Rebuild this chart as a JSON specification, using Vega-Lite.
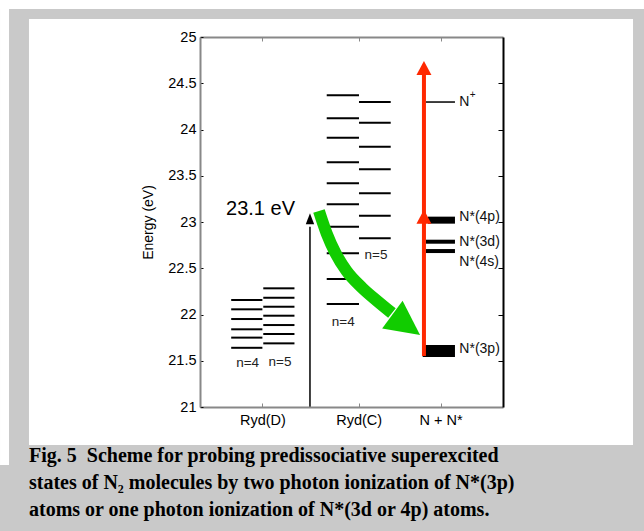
{
  "$schema": "https://vega.github.io/schema/vega-lite/v6.json",
  "autosize": {"type": "none"},
  "width": 303,
  "height": 370,
  "padding": {"left": 200, "top": 37, "right": 141, "bottom": 124},
  "background": "#c9c9c9",
  "config": {"view": {"stroke": null}},
  "title": {
    "text": ["Fig. 5\u00a0 Scheme for probing predissociative superexcited", "states of N₂ molecules by two photon ionization of N*(3p)", "atoms or one photon ionization of N*(3d or 4p) atoms."],
    "orient": "bottom", "anchor": "start", "frame": "group", "dx": -171, "offset": -19,
    "font": "Liberation Serif", "fontSize": 20, "fontWeight": "bold", "color": "#000", "lineHeight": 27, "baseline": "top"
  },
  "datasets": {
    "levels": [
      {"series": "Ryd(D) n=4", "xStart": 0.65, "xEnd": 1.0, "E": 22.157, "kind": "Rydberg"},
      {"series": "Ryd(D) n=4", "xStart": 0.65, "xEnd": 1.0, "E": 22.056, "kind": "Rydberg"},
      {"series": "Ryd(D) n=4", "xStart": 0.65, "xEnd": 1.0, "E": 21.951, "kind": "Rydberg"},
      {"series": "Ryd(D) n=4", "xStart": 0.65, "xEnd": 1.0, "E": 21.84, "kind": "Rydberg"},
      {"series": "Ryd(D) n=4", "xStart": 0.65, "xEnd": 1.0, "E": 21.75, "kind": "Rydberg"},
      {"series": "Ryd(D) n=4", "xStart": 0.65, "xEnd": 1.0, "E": 21.64, "kind": "Rydberg"},
      {"series": "Ryd(D) n=5", "xStart": 1.01, "xEnd": 1.36, "E": 22.283, "kind": "Rydberg"},
      {"series": "Ryd(D) n=5", "xStart": 1.01, "xEnd": 1.36, "E": 22.181, "kind": "Rydberg"},
      {"series": "Ryd(D) n=5", "xStart": 1.01, "xEnd": 1.36, "E": 22.084, "kind": "Rydberg"},
      {"series": "Ryd(D) n=5", "xStart": 1.01, "xEnd": 1.36, "E": 21.987, "kind": "Rydberg"},
      {"series": "Ryd(D) n=5", "xStart": 1.01, "xEnd": 1.36, "E": 21.886, "kind": "Rydberg"},
      {"series": "Ryd(D) n=5", "xStart": 1.01, "xEnd": 1.36, "E": 21.789, "kind": "Rydberg"},
      {"series": "Ryd(D) n=5", "xStart": 1.01, "xEnd": 1.36, "E": 21.688, "kind": "Rydberg"},
      {"series": "Ryd(C) n=4", "xStart": 1.722, "xEnd": 2.084, "E": 24.37, "kind": "Rydberg"},
      {"series": "Ryd(C) n=4", "xStart": 1.722, "xEnd": 2.084, "E": 24.121, "kind": "Rydberg"},
      {"series": "Ryd(C) n=4", "xStart": 1.722, "xEnd": 2.084, "E": 23.911, "kind": "Rydberg"},
      {"series": "Ryd(C) n=4", "xStart": 1.722, "xEnd": 2.084, "E": 23.645, "kind": "Rydberg"},
      {"series": "Ryd(C) n=4", "xStart": 1.722, "xEnd": 2.084, "E": 23.418, "kind": "Rydberg"},
      {"series": "Ryd(C) n=4", "xStart": 1.722, "xEnd": 2.084, "E": 23.191, "kind": "Rydberg"},
      {"series": "Ryd(C) n=4", "xStart": 1.722, "xEnd": 2.084, "E": 22.949, "kind": "Rydberg"},
      {"series": "Ryd(C) n=4", "xStart": 1.722, "xEnd": 2.084, "E": 22.661, "kind": "Rydberg"},
      {"series": "Ryd(C) n=4", "xStart": 1.722, "xEnd": 2.084, "E": 22.384, "kind": "Rydberg"},
      {"series": "Ryd(C) n=4", "xStart": 1.722, "xEnd": 2.084, "E": 22.114, "kind": "Rydberg"},
      {"series": "Ryd(C) n=5", "xStart": 2.084, "xEnd": 2.44, "E": 24.297, "kind": "Rydberg"},
      {"series": "Ryd(C) n=5", "xStart": 2.084, "xEnd": 2.44, "E": 24.073, "kind": "Rydberg"},
      {"series": "Ryd(C) n=5", "xStart": 2.084, "xEnd": 2.44, "E": 23.813, "kind": "Rydberg"},
      {"series": "Ryd(C) n=5", "xStart": 2.084, "xEnd": 2.44, "E": 23.57, "kind": "Rydberg"},
      {"series": "Ryd(C) n=5", "xStart": 2.084, "xEnd": 2.44, "E": 23.31, "kind": "Rydberg"},
      {"series": "Ryd(C) n=5", "xStart": 2.084, "xEnd": 2.44, "E": 23.068, "kind": "Rydberg"},
      {"series": "Ryd(C) n=5", "xStart": 2.084, "xEnd": 2.44, "E": 22.824, "kind": "Rydberg"},
      {"series": "N+", "xStart": 2.836, "xEnd": 3.161, "E": 24.297, "kind": "ion"},
      {"series": "N*(4p)", "xStart": 2.858, "xEnd": 3.161, "E": 23.02, "kind": "4p"},
      {"series": "N*(3d)", "xStart": 2.836, "xEnd": 3.161, "E": 22.787, "kind": "3d/4s"},
      {"series": "N*(4s)", "xStart": 2.836, "xEnd": 3.161, "E": 22.686, "kind": "3d/4s"},
      {"series": "N*(3p)", "xStart": 2.799, "xEnd": 3.161, "E": 21.605, "kind": "3p"}
    ]
  },
  "resolve": {"axis": {"x": "independent", "y": "independent"}},
  "layer": [
    {
      "data": {"values": [{}]},
      "mark": {"type": "rect", "color": "#ffffff", "clip": false},
      "encoding": {
        "x": {"datum": -1.944, "type": "quantitative", "scale": {"domain": [0.3, 3.7], "nice": false, "zero": false}, "axis": null},
        "x2": {"datum": 5.282},
        "y": {"datum": 25.4, "type": "quantitative", "scale": {"domain": [21, 25], "nice": false, "zero": false}, "axis": null},
        "y2": {"datum": 25.303}
      }
    },
    {
      "data": {"values": [{}]},
      "mark": {"type": "rect", "color": "#ffffff", "clip": false},
      "encoding": {
        "x": {"datum": -1.944, "type": "quantitative", "axis": null},
        "x2": {"datum": -1.843},
        "y": {"datum": 25.4, "type": "quantitative", "axis": null},
        "y2": {"datum": 20.373}
      }
    },
    {
      "data": {"values": [{}]},
      "mark": {"type": "rect", "color": "#ffffff", "clip": false},
      "encoding": {
        "x": {"datum": -1.619, "type": "quantitative", "axis": null},
        "x2": {"datum": 5.159},
        "y": {"datum": 25.195, "type": "quantitative", "axis": null},
        "y2": {"datum": 20.589}
      }
    },
    {
      "data": {"name": "levels"},
      "transform": [{"filter": "datum.kind == 'Rydberg'"}],
      "mark": {"type": "rule", "color": "#000000", "strokeWidth": 2},
      "encoding": {
        "x": {"field": "xStart", "type": "quantitative", "scale": {"domain": [0.3, 3.7], "nice": false, "zero": false},
          "axis": {"orient": "bottom", "values": [1, 2.08, 3], "labelExpr": "datum.value < 1.5 ? 'Ryd(D)' : datum.value < 2.5 ? 'Ryd(C)' : 'N + N*'",
            "title": null, "grid": false, "tickSize": -4, "tickColor": "#888888", "domainColor": "#888888", "domainWidth": 2,
            "labelFont": "Liberation Sans", "labelFontSize": 14.5, "labelColor": "#000000", "labelPadding": 10, "zindex": 1}},
        "x2": {"field": "xEnd"},
        "y": {"field": "E", "type": "quantitative", "scale": {"domain": [21, 25], "nice": false, "zero": false},
          "axis": {"orient": "left", "values": [21, 21.5, 22, 22.5, 23, 23.5, 24, 24.5, 25], "format": "~g",
            "title": "Energy (eV)", "titleFont": "Liberation Sans", "titleFontSize": 14, "titleFontWeight": "normal", "titleColor": "#000000", "titlePadding": 12,
            "grid": false, "tickSize": -3, "tickColor": "#000000", "domainColor": "#888888", "domainWidth": 2,
            "labelFont": "Liberation Sans", "labelFontSize": 14.5, "labelColor": "#000000", "labelPadding": 7, "zindex": 1}}
      }
    },
    {
      "data": {"name": "levels"},
      "transform": [{"filter": "datum.kind == 'ion'"}],
      "mark": {"type": "rule", "color": "#000000", "strokeWidth": 1.5},
      "encoding": {
        "x": {"field": "xStart", "type": "quantitative", "axis": null},
        "x2": {"field": "xEnd"},
        "y": {"field": "E", "type": "quantitative", "axis": null}
      }
    },
    {
      "data": {"name": "levels"},
      "transform": [{"filter": "datum.kind == '3d/4s'"}],
      "mark": {"type": "rule", "color": "#000000", "strokeWidth": 4},
      "encoding": {
        "x": {"field": "xStart", "type": "quantitative", "axis": null},
        "x2": {"field": "xEnd"},
        "y": {"field": "E", "type": "quantitative", "axis": null}
      }
    },
    {
      "data": {"name": "levels"},
      "transform": [{"filter": "datum.kind == '4p'"}],
      "mark": {"type": "rule", "color": "#000000", "strokeWidth": 7},
      "encoding": {
        "x": {"field": "xStart", "type": "quantitative", "axis": null},
        "x2": {"field": "xEnd"},
        "y": {"field": "E", "type": "quantitative", "axis": null}
      }
    },
    {
      "data": {"name": "levels"},
      "transform": [{"filter": "datum.kind == '3p'"}],
      "mark": {"type": "rule", "color": "#000000", "strokeWidth": 12},
      "encoding": {
        "x": {"field": "xStart", "type": "quantitative", "axis": null},
        "x2": {"field": "xEnd"},
        "y": {"field": "E", "type": "quantitative", "axis": null}
      }
    },
    {
      "data": {"values": [{"arrow": "excitation 23.1 eV", "x": 1.534, "E1": 21, "E2": 22.95}]},
      "mark": {"type": "rule", "color": "#000000", "strokeWidth": 1.5},
      "encoding": {
        "x": {"field": "x", "type": "quantitative", "scale": {"domain": [0.3, 3.7], "nice": false, "zero": false},
          "axis": {"orient": "top", "values": [1, 2.08, 3], "labels": false, "title": null, "grid": false, "tickSize": -4, "tickColor": "#888888", "domainColor": "#888888", "domainWidth": 2, "zindex": 1}},
        "y": {"field": "E1", "type": "quantitative", "scale": {"domain": [21, 25], "nice": false, "zero": false},
          "axis": {"orient": "right", "values": [21.5, 22, 22.5, 23, 23.5, 24, 24.5], "labels": false, "title": null, "grid": false, "tickSize": -5, "tickColor": "#000000", "domainColor": "#000000", "domainWidth": 2, "zindex": 1}},
        "y2": {"field": "E2"}
      }
    },
    {
      "data": {"values": [{"arrow": "ionization", "x": 2.813, "E1": 21.551, "E2": 24.6}]},
      "mark": {"type": "rule", "color": "#ff2800", "strokeWidth": 4},
      "encoding": {
        "x": {"field": "x", "type": "quantitative", "axis": null},
        "y": {"field": "E1", "type": "quantitative", "axis": null},
        "y2": {"field": "E2"}
      }
    },
    {
      "data": {"values": [
        {"order": 1, "x": 1.635, "E": 23.119},
        {"order": 2, "x": 1.722, "E": 22.875},
        {"order": 3, "x": 1.82, "E": 22.665},
        {"order": 4, "x": 1.945, "E": 22.47},
        {"order": 5, "x": 2.118, "E": 22.29},
        {"order": 6, "x": 2.297, "E": 22.14},
        {"order": 7, "x": 2.454, "E": 22.016}
      ]},
      "mark": {"type": "line", "color": "#11cc00", "strokeWidth": 12, "interpolate": "monotone", "strokeCap": "butt"},
      "encoding": {
        "x": {"field": "x", "type": "quantitative", "axis": null},
        "y": {"field": "E", "type": "quantitative", "axis": null},
        "order": {"field": "order", "type": "quantitative"}
      }
    },
    {
      "data": {"values": [{"x": 2.614, "E": 21.889}]},
      "mark": {"type": "point", "filled": true, "opacity": 1, "color": "#11cc00", "shape": "M1,0L-1,-1L-1,1Z", "size": 1183, "angle": 36.4, "strokeWidth": 0},
      "encoding": {
        "x": {"field": "x", "type": "quantitative", "axis": null},
        "y": {"field": "E", "type": "quantitative", "axis": null}
      }
    },
    {
      "data": {"values": [{"x": 2.813, "E": 24.665}, {"x": 2.813, "E": 23.056}]},
      "mark": {"type": "point", "filled": true, "opacity": 1, "color": "#ff2800", "shape": "M0,-1L1.07,1L-1.07,1Z", "size": 196, "strokeWidth": 0},
      "encoding": {
        "x": {"field": "x", "type": "quantitative", "axis": null},
        "y": {"field": "E", "type": "quantitative", "axis": null}
      }
    },
    {
      "data": {"values": [{"x": 1.534, "E": 23.035}]},
      "mark": {"type": "point", "filled": true, "opacity": 1, "color": "#000000", "shape": "M0,-1L0.76,1L-0.76,1Z", "size": 121, "strokeWidth": 0},
      "encoding": {
        "x": {"field": "x", "type": "quantitative", "axis": null},
        "y": {"field": "E", "type": "quantitative", "axis": null}
      }
    },
    {
      "data": {"values": [
        {"label": "n=4", "x": 0.835, "E": 21.476},
        {"label": "n=5", "x": 1.198, "E": 21.49},
        {"label": "n=5", "x": 2.275, "E": 22.643},
        {"label": "n=4", "x": 1.908, "E": 21.922}
      ]},
      "mark": {"type": "text", "font": "Liberation Sans", "fontSize": 13.5, "color": "#222222", "align": "center", "baseline": "middle"},
      "encoding": {
        "x": {"field": "x", "type": "quantitative", "axis": null},
        "y": {"field": "E", "type": "quantitative", "axis": null},
        "text": {"field": "label"}
      }
    },
    {
      "data": {"values": [{"label": "23.1 eV", "x": 0.979, "E": 23.141}]},
      "mark": {"type": "text", "font": "Liberation Sans", "fontSize": 20, "color": "#000000", "align": "center", "baseline": "middle"},
      "encoding": {
        "x": {"field": "x", "type": "quantitative", "axis": null},
        "y": {"field": "E", "type": "quantitative", "axis": null},
        "text": {"field": "label"}
      }
    },
    {
      "data": {"values": [
        {"label": "N", "x": 3.21, "E": 24.3},
        {"label": "N*(4p)", "x": 3.21, "E": 23.049},
        {"label": "N*(3d)", "x": 3.21, "E": 22.784},
        {"label": "N*(4s)", "x": 3.21, "E": 22.571},
        {"label": "N*(3p)", "x": 3.21, "E": 21.624}
      ]},
      "mark": {"type": "text", "font": "Liberation Sans", "fontSize": 14, "color": "#111111", "align": "left", "baseline": "middle"},
      "encoding": {
        "x": {"field": "x", "type": "quantitative", "axis": null},
        "y": {"field": "E", "type": "quantitative", "axis": null},
        "text": {"field": "label"}
      }
    },
    {
      "data": {"values": [{"label": "+", "x": 3.36, "E": 24.368}]},
      "mark": {"type": "text", "font": "Liberation Sans", "fontSize": 10, "color": "#111111", "align": "center", "baseline": "middle"},
      "encoding": {
        "x": {"field": "x", "type": "quantitative", "axis": null},
        "y": {"field": "E", "type": "quantitative", "axis": null},
        "text": {"field": "label"}
      }
    }
  ]
}
